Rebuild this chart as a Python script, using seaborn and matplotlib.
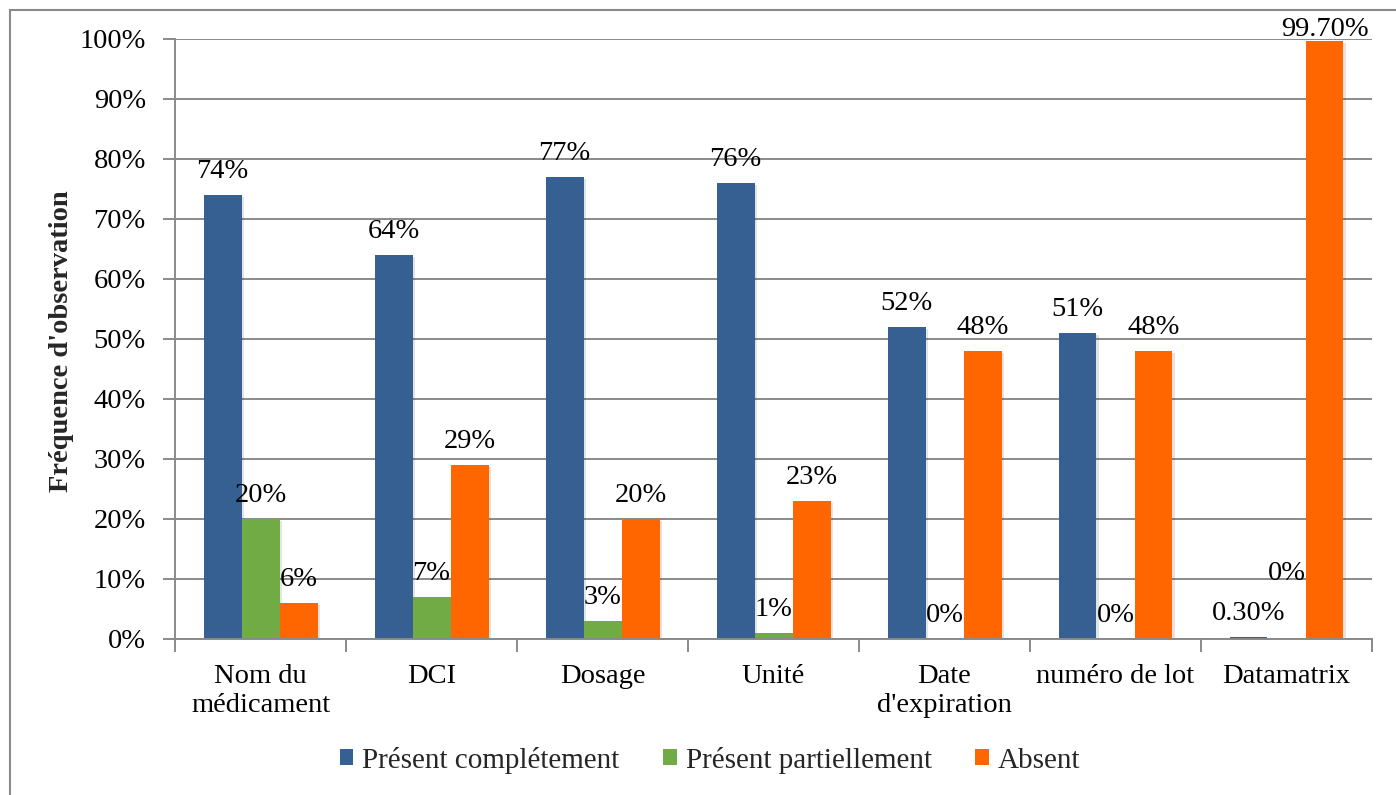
import numpy as np
import pandas as pd
import matplotlib
matplotlib.use("Agg")
import matplotlib.pyplot as plt
from matplotlib import patheffects as pe
from matplotlib.patches import Rectangle
import seaborn as sns

# --- data -------------------------------------------------------------
categories = ["Nom du\nmédicament", "DCI", "Dosage", "Unité",
              "Date\nd'expiration", "numéro de lot", "Datamatrix"]
series = ["Présent complétement", "Présent partiellement", "Absent"]
present_complet = [74, 64, 77, 76, 52, 51, 0.3]
present_partiel = [20, 7, 3, 1, 0, 0, 0]
absent = [6, 29, 20, 23, 48, 48, 99.7]
y_ticks = [0, 10, 20, 30, 40, 50, 60, 70, 80, 90, 100]
colors = ["#365F92", "#70AB46", "#FF6600"]

values = {series[0]: present_complet, series[1]: present_partiel, series[2]: absent}
df = pd.DataFrame([
    {"Critère": c, "Présence": s, "Fréquence": v}
    for s in series for c, v in zip(categories, values[s])
])

# label heights that are moved to avoid collisions (data units)
label_y_override = {
    ("Présent partiellement", "Datamatrix"): 11.0,
    ("Absent", "Datamatrix"): 101.5,
}

# --- style ------------------------------------------------------------
sns.set_style("white")
plt.rcParams["font.family"] = ["Liberation Serif", "DejaVu Serif"]
grey = "#8a8a8a"

W, H = 1396, 795
fig = plt.figure(figsize=(W / 100, H / 100), dpi=100)
ax = fig.add_axes([175 / W, 1 - 639 / H, 1197 / W, 600 / H])

sns.barplot(data=df, x="Critère", y="Fréquence", hue="Présence",
            order=categories, hue_order=series, palette=colors,
            width=2 / 3, gap=0, saturation=1, errorbar=None,
            linewidth=0, ax=ax)

shadow = [pe.SimplePatchShadow(offset=(1.5, -1.5), alpha=0.12), pe.Normal()]
for s, container in zip(series, ax.containers):
    for cat, bar in zip(categories, container):
        bar.set_path_effects(shadow)
        v = bar.get_height()
        txt = f"{v:.0f}%" if abs(v - round(v)) < 1e-9 else f"{v:.2f}%"
        y = label_y_override.get((s, cat), v + 4.0)
        ax.text(bar.get_x() + bar.get_width() / 2, y, txt,
                ha="center", va="center", fontsize=20.5, color="black")

# --- axes -------------------------------------------------------------
ax.set_xlim(-0.5, len(categories) - 0.5)
ax.set_ylim(0, 100)
ax.set_yticks(y_ticks)
ax.set_yticklabels([f"{t}%" for t in y_ticks])
ax.set_xticks(range(len(categories)))
ax.set_xticklabels(categories, linespacing=1.2)
ax.set_xticks(np.arange(-0.5, len(categories), 1), minor=True)
ax.set_xlabel("")
ax.set_ylabel("")

ax.yaxis.grid(True, color=grey, lw=1.4)
ax.set_axisbelow(True)
for side in ("top", "right"):
    ax.spines[side].set_visible(False)
for side in ("left", "bottom"):
    ax.spines[side].set_color(grey)
    ax.spines[side].set_linewidth(1.4)

ax.tick_params(axis="y", left=True, length=9, width=1.4, color=grey,
               pad=12, labelsize=20.5, labelcolor="black")
ax.tick_params(axis="x", which="major", bottom=True, length=0, pad=18,
               labelsize=20.5, labelcolor="black")
ax.tick_params(axis="x", which="minor", bottom=True, length=9, width=1.4,
               color=grey)

fig.text(62 / W, 1 - 341 / H, "Fréquence d'observation", rotation=90,
         ha="center", va="center", fontsize=20.5, fontweight="bold")

# legend below the plot
handles, labels = ax.get_legend_handles_labels()
ax.get_legend().remove()
fig.legend(handles, labels, loc="center", bbox_to_anchor=(710 / W, 1 - 760 / H),
           ncol=3, frameon=False, fontsize=21, handlelength=0.47,
           handleheight=0.47, handletextpad=0.3, columnspacing=1.5)

# chart frame
fig.add_artist(Rectangle((10 / W, -0.1), 1.2, 1 - 10 / H + 0.1,
                         transform=fig.transFigure, fill=False,
                         edgecolor=grey, lw=1.5))

fig.savefig("out.png", dpi=100, facecolor="white")
